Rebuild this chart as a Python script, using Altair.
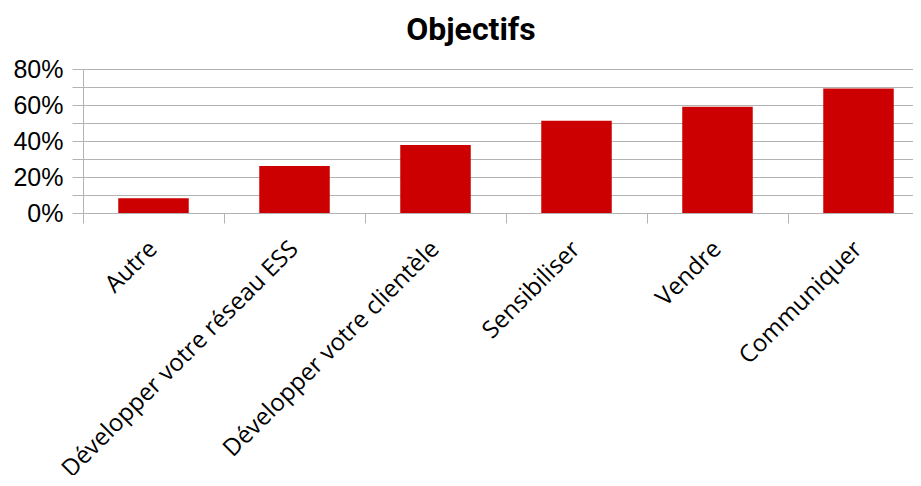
import altair as alt
import pandas as pd

categories = [
    "Autre",
    "Développer votre réseau ESS",
    "Développer votre clientèle",
    "Sensibiliser",
    "Vendre",
    "Communiquer",
]
values = [0.082, 0.261, 0.378, 0.512, 0.590, 0.691]
y_ticks = [0.0, 0.1, 0.2, 0.3, 0.4, 0.5, 0.6, 0.7, 0.8]

df = pd.DataFrame({"cat": categories, "val": values})

chart = (
    alt.Chart(df)
    .mark_bar(color="#cc0000", width=alt.RelativeBandSize(0.5))
    .encode(
        x=alt.X(
            "cat:N",
            sort=categories,
            scale=alt.Scale(paddingInner=0, paddingOuter=0),
            axis=alt.Axis(
                title=None,
                labelAngle=-45,
                labelFont="Open Sans",
                labelFontSize=24,
                labelColor="#000000",
                labelAlign="right",
                labelBaseline="middle",
                labelPadding=22,
                labelLimit=0,
                bandPosition=0,
                ticks=True,
                tickSize=10,
                tickColor="#b3b3b3",
                domain=True,
                domainColor="#b3b3b3",
                grid=False,
                labelOverlap=False,
            ),
        ),
        y=alt.Y(
            "val:Q",
            scale=alt.Scale(domain=[0, 0.8], nice=False),
            axis=alt.Axis(
                title=None,
                values=y_ticks,
                labelExpr="round(datum.value*100) % 20 == 0 ? format(datum.value, '.0%') : ''",
                labelFont="Liberation Sans",
                labelFontSize=25,
                labelColor="#000000",
                labelPadding=9,
                tickSize=11,
                tickColor="#b3b3b3",
                domainColor="#b3b3b3",
                gridColor="#b3b3b3",
                grid=True,
            ),
        ),
    )
    .properties(
        width=846,
        height=144,
        title=alt.TitleParams(
            "Objectifs",
            font="Roboto",
            fontSize=32,
            fontWeight="bold",
            color="#000000",
            anchor="middle",
            frame="bounds",
            offset=10,
        ),
        autosize=alt.AutoSizeParams(type="none"),
        padding={"left": 75, "top": 61, "right": -16, "bottom": 262},
    )
    .configure_view(stroke=None)
)

chart.save("out.html", embed_options={"renderer": "svg", "actions": False})
